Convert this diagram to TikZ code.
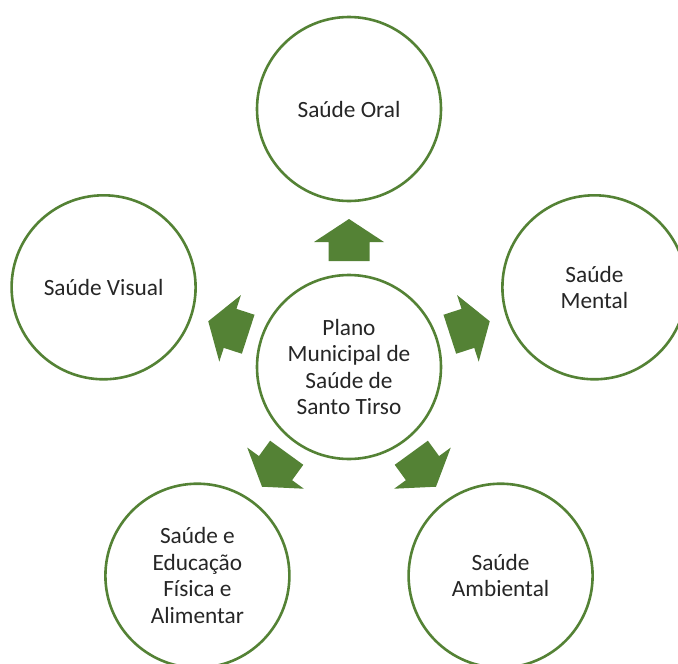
\documentclass[tikz,border=0pt]{standalone}
\usepackage{fontspec}
\setmainfont{Carlito}
\definecolor{grn}{HTML}{548235}
\definecolor{txt}{HTML}{262626}
\tikzset{
  circ/.style={circle,draw=grn,line width=2.6pt,fill=white,minimum size=184pt,
    inner sep=0pt,align=center,text=txt,font=\fontsize{23.3}{26.5}\selectfont},
  blockarrow/.style={fill=grn,draw=none}
}
\begin{document}
\begin{tikzpicture}[x=1pt,y=-1pt]
\useasboundingbox (0,0) rectangle (678,664);
\coordinate (O) at (349,367);
\node[circ] (c) at (O) {Plano\\Municipal de\\Saúde de\\Santo Tirso};
\node[circ] (top) at (349,109) {Saúde Oral};
\node[circ] (right) at (594.4,287.3) {Saúde\\Mental};
\node[circ] (left) at (103.6,287.3) {Saúde Visual};
\node[circ] (bl) at (197.4,575.7) {Saúde e\\Educação\\Física e\\Alimentar};
\node[circ] (br) at (500.6,575.7) {Saúde\\Ambiental};
\foreach \ang in {90,18,162,234,306}{
  \begin{scope}[shift={(O)},rotate=\ang]
    \fill[blockarrow] (106,-20.5) -- (125,-20.5) -- (125,-35) -- (148,0)
      -- (125,35) -- (125,20.5) -- (106,20.5) -- cycle;
  \end{scope}
}
\end{tikzpicture}
\end{document}
